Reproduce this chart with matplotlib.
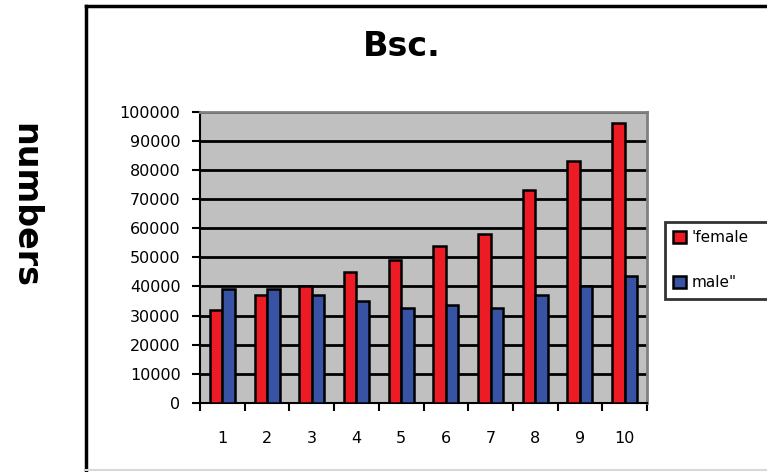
import matplotlib
matplotlib.use("Agg")
import matplotlib.pyplot as plt
import numpy as np
from matplotlib.lines import Line2D

# Data
categories = ["1", "2", "3", "4", "5", "6", "7", "8", "9", "10"]
female = [32000, 37000, 40000, 45000, 49000, 54000, 58000, 73000, 83000, 96000]
male = [39000, 39000, 37000, 35000, 32500, 33500, 32500, 37000, 40000, 43500]
yticks = list(range(0, 100001, 10000))
series_names = ["'female", 'male"']

RED = "#ED1C24"
BLUE = "#3953A4"

fig = plt.figure(figsize=(7.67, 4.72), dpi=100)
fig.patch.set_facecolor("white")

ax = fig.add_axes([200 / 767, 1 - 403 / 472, 447 / 767, (403 - 111.7) / 472])
ax.set_facecolor("#C0C0C0")

x = np.arange(len(categories))
w = 0.28
b1 = ax.bar(x - w / 2, female, width=w, color=RED, edgecolor="black", linewidth=1.8, zorder=3)
b2 = ax.bar(x + w / 2, male, width=w, color=BLUE, edgecolor="black", linewidth=1.8, zorder=3)

ax.set_xlim(-0.5, len(categories) - 0.5)
ax.set_ylim(0, 100000)

# gridlines
ax.set_yticks(yticks)
ax.set_yticklabels([str(v) for v in yticks], fontsize=11.5, family="DejaVu Sans")
ax.yaxis.grid(True, color="black", linewidth=2, zorder=1)
ax.set_axisbelow(True)
ax.tick_params(axis="y", length=6, width=1.5, direction="out", pad=8, color="black")

# category labels centered, ticks on boundaries
ax.set_xticks(x)
ax.set_xticklabels(categories, fontsize=11.5, family="DejaVu Sans")
ax.set_xticks(np.arange(-0.5, len(categories), 1.0), minor=True)
ax.tick_params(axis="x", which="major", length=0, pad=20)
ax.tick_params(axis="x", which="minor", length=6, width=1.5, direction="out", color="black")

for side in ("top", "right"):
    ax.spines[side].set_color("#808080")
    ax.spines[side].set_linewidth(2)
for side in ("left", "bottom"):
    ax.spines[side].set_color("black")
    ax.spines[side].set_linewidth(1.5)

# title and axis caption
fig.text(402 / 767, 1 - 46 / 472, "Bsc.", ha="center", va="center",
         fontsize=24, fontweight="bold", family="DejaVu Sans")
fig.text(25 / 767, 1 - 205 / 472, "numbers", ha="center", va="center",
         rotation=270, fontsize=24, fontweight="bold", family="DejaVu Sans")

# legend, its box running off the right edge
leg = fig.legend([b1, b2], series_names, loc="upper left", mode="expand",
                 bbox_to_anchor=(665 / 767, 1 - 222 / 472, 120 / 767, 0.0),
                 frameon=True, fancybox=False, fontsize=11,
                 handlelength=0.8, handleheight=0.8, handletextpad=0.4,
                 borderpad=0.55, labelspacing=1.95, borderaxespad=0)
leg.get_frame().set_edgecolor("black")
leg.get_frame().set_linewidth(2)
for t in leg.get_texts():
    t.set_family("DejaVu Sans")

# outer chart border
fig.add_artist(Line2D([86 / 767, 86 / 767], [1 - 470 / 472, 1 - 6 / 472],
                      transform=fig.transFigure, color="black", linewidth=2.5))
fig.add_artist(Line2D([86 / 767, 1.0], [1 - 6 / 472, 1 - 6 / 472],
                      transform=fig.transFigure, color="black", linewidth=2.5))
fig.add_artist(Line2D([86 / 767, 1.0], [1 - 470 / 472, 1 - 470 / 472],
                      transform=fig.transFigure, color="#D8D8D8", linewidth=1.5))

fig.savefig("out.png", dpi=100)
